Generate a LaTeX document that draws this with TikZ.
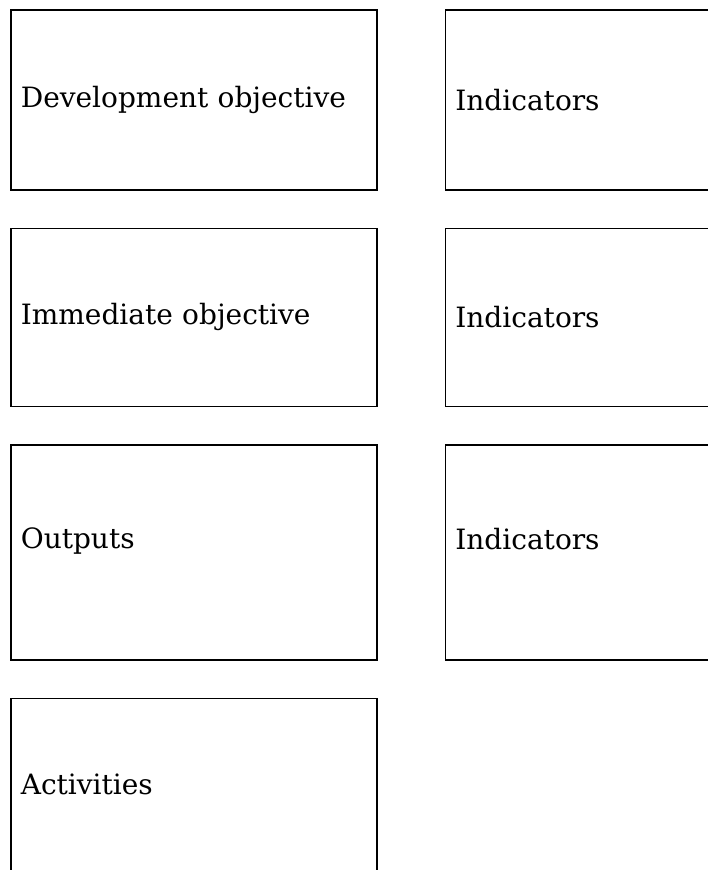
\documentclass[tikz,border=0pt]{standalone}
\usepackage{fontspec}
\setmainfont{DejaVu Serif}
\usepackage{tikz}
\usetikzlibrary{positioning}

\begin{document}
\begin{tikzpicture}[x=1pt, y=1pt,
  box/.style={draw, line width=1.6pt, minimum width=366pt, text width=346pt,
    inner xsep=10pt, align=left, font=\fontsize{28}{34}\selectfont},
  ind/.style={box, minimum width=300pt, text width=280pt},
  node distance=37pt and 67pt
]
  \clip (0,0) rectangle (708,-870);
  \node[box, minimum height=180pt, anchor=north west] (dev) at (10,-9) {Development objective};
  \node[box, minimum height=178pt, below=of dev] (imm) {Immediate objective};
  \node[box, minimum height=215pt, text depth=28pt, below=of imm] (out) {Outputs};
  \node[box, minimum height=192pt, text depth=20pt, below=of out] (act) {Activities};

  \node[ind, minimum height=180pt, right=of dev.north east, anchor=north west] (devind) {Indicators};
  \node[ind, minimum height=178pt, right=of imm.north east, anchor=north west] (imming) {Indicators};
  \node[ind, minimum height=215pt, text depth=28pt, right=of out.north east, anchor=north west] (outind) {Indicators};
\end{tikzpicture}
\end{document}
